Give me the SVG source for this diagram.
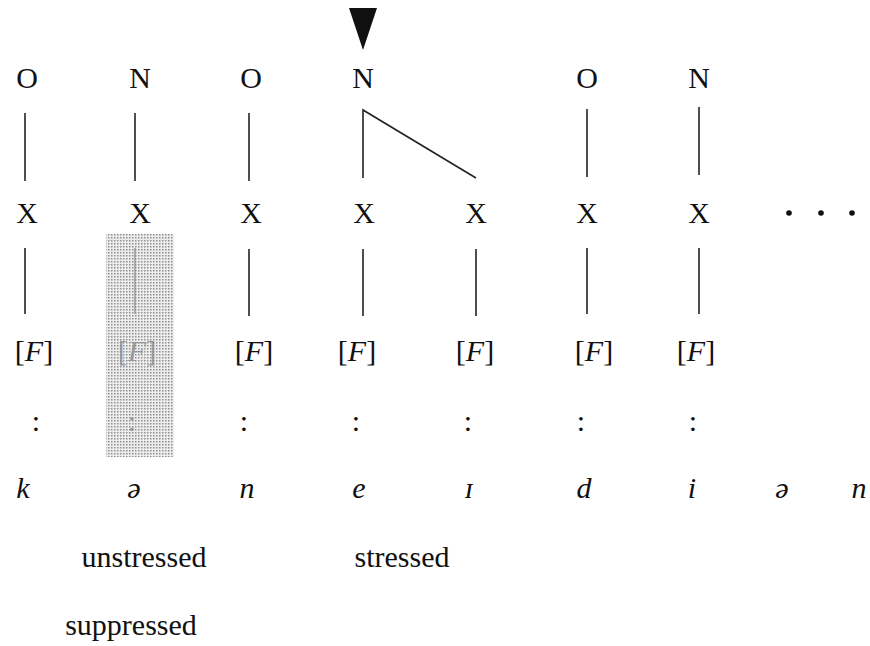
<svg xmlns="http://www.w3.org/2000/svg" width="870" height="646" viewBox="0 0 870 646">
<style>
text{font-family:"Liberation Serif","Times New Roman",Times,serif;font-size:30px;fill:#111;text-anchor:middle}
.it{font-style:italic}
.ln{stroke:#222;stroke-width:1.6;fill:none}
</style>
<defs>
<pattern id="dots" width="3" height="3" patternUnits="userSpaceOnUse">
<rect x="0" y="0" width="1.5" height="1.5" fill="#909090"/>
</pattern>
</defs>
<rect width="870" height="646" fill="#fff"/>
<polygon points="349,8 377,8 363,50" fill="#111"/>
<g id="connectors">
<line class="ln" x1="25" y1="113" x2="25" y2="181"/>
<line class="ln" x1="135" y1="113" x2="135" y2="181"/>
<line class="ln" x1="249" y1="113" x2="249" y2="181"/>
<polyline class="ln" points="363,178 363,110 476,178"/>
<line class="ln" x1="587" y1="109" x2="587" y2="177"/>
<line class="ln" x1="699" y1="107" x2="699" y2="175"/>
<line class="ln" x1="25" y1="248" x2="25" y2="314"/>
<line class="ln" x1="135" y1="248" x2="135" y2="314"/>
<line class="ln" x1="249" y1="249" x2="249" y2="316"/>
<line class="ln" x1="363" y1="249" x2="363" y2="316"/>
<line class="ln" x1="476" y1="249" x2="476" y2="316"/>
<line class="ln" x1="587" y1="248" x2="587" y2="314"/>
<line class="ln" x1="699" y1="248" x2="699" y2="314"/>
</g>
<g id="top-row" font-family="Liberation Serif, serif">
<text x="27" y="88">O</text>
<text x="140" y="88">N</text>
<text x="251" y="88">O</text>
<text x="363" y="88">N</text>
<text x="587" y="88">O</text>
<text x="699" y="88">N</text>
</g>
<g id="x-row">
<text x="27" y="223">X</text>
<text x="140" y="223">X</text>
<text x="251" y="223">X</text>
<text x="364" y="223">X</text>
<text x="476" y="223">X</text>
<text x="587" y="223">X</text>
<text x="699" y="223">X</text>
<circle cx="789" cy="213" r="2.8" fill="#111"/>
<circle cx="821" cy="213" r="2.8" fill="#111"/>
<circle cx="852" cy="213" r="2.8" fill="#111"/>
</g>
<g id="f-row">
<text x="34" y="361">[<tspan class="it">F</tspan>]</text>
<text x="137" y="361">[<tspan class="it">F</tspan>]</text>
<text x="254" y="361">[<tspan class="it">F</tspan>]</text>
<text x="357" y="361">[<tspan class="it">F</tspan>]</text>
<text x="475" y="361">[<tspan class="it">F</tspan>]</text>
<text x="594" y="361">[<tspan class="it">F</tspan>]</text>
<text x="696" y="361">[<tspan class="it">F</tspan>]</text>
</g>
<g id="colon-row">
<text x="36" y="431">:</text>
<text x="132" y="431">:</text>
<text x="244" y="431">:</text>
<text x="356" y="431">:</text>
<text x="468" y="431">:</text>
<text x="581" y="431">:</text>
<text x="693" y="431">:</text>
</g>
<g id="segments">
<text class="it" x="23" y="498">k</text>
<text class="it" x="134" y="498">ə</text>
<text class="it" x="247" y="498">n</text>
<text class="it" x="359" y="498">e</text>
<text class="it" x="469" y="498">ɪ</text>
<text class="it" x="584" y="498">d</text>
<text class="it" x="692" y="498">i</text>
<text class="it" x="782" y="498">ə</text>
<text class="it" x="859" y="498">n</text>
</g>
<g id="suppressed-box">
<rect x="106" y="234" width="68" height="223" fill="#e4e4e4" fill-opacity="0.65"/>
<rect x="106" y="234" width="68" height="223" fill="url(#dots)"/>
</g>
<g id="labels">
<text x="144" y="567">unstressed</text>
<text x="402" y="567">stressed</text>
<text x="131" y="635">suppressed</text>
</g>
</svg>
